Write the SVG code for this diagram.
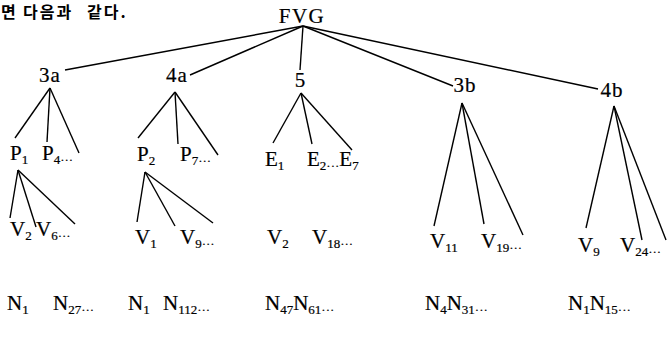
<svg xmlns="http://www.w3.org/2000/svg" width="669" height="340" viewBox="0 0 669 340">
<style>
.t{font-family:"Liberation Serif","Times New Roman",serif;font-size:21px;fill:#000;stroke:#000;stroke-width:0.2}
.s{font-size:13px}
.k{font-family:"Noto Sans CJK KR",sans-serif;font-size:16px;font-weight:700;fill:#000}
.c line{stroke:#000;stroke-width:1.4;fill:none}
</style>
<rect width="669" height="340" fill="#fff"/>
<g id="header"><text class="k" y="18"><tspan x="1">면</tspan><tspan x="23" letter-spacing="2">다음과</tspan><tspan x="87" letter-spacing="2">같다.</tspan></text></g>
<g id="connectors" class="c">
<line x1="303" y1="26" x2="65" y2="70"/>
<line x1="303" y1="26" x2="190" y2="75"/>
<line x1="303" y1="26" x2="300" y2="70"/>
<line x1="303" y1="26" x2="453" y2="86"/>
<line x1="303" y1="26" x2="598" y2="89"/>
<line x1="50" y1="88" x2="15" y2="138"/>
<line x1="50" y1="88" x2="47" y2="142"/>
<line x1="50" y1="88" x2="79" y2="153"/>
<line x1="18" y1="170" x2="10" y2="218"/>
<line x1="18" y1="170" x2="36" y2="227"/>
<line x1="18" y1="170" x2="75" y2="224"/>
<line x1="175" y1="92" x2="138" y2="138"/>
<line x1="175" y1="92" x2="178" y2="144"/>
<line x1="175" y1="92" x2="218" y2="155"/>
<line x1="145" y1="172" x2="137" y2="222"/>
<line x1="145" y1="172" x2="175" y2="226"/>
<line x1="145" y1="172" x2="213" y2="223"/>
<line x1="301" y1="93" x2="273" y2="143"/>
<line x1="301" y1="93" x2="312" y2="144"/>
<line x1="301" y1="93" x2="352" y2="150"/>
<line x1="462" y1="103" x2="434" y2="226"/>
<line x1="462" y1="103" x2="484" y2="224"/>
<line x1="462" y1="103" x2="523" y2="235"/>
<line x1="614" y1="106" x2="586" y2="228"/>
<line x1="614" y1="106" x2="642" y2="240"/>
<line x1="614" y1="106" x2="666" y2="240"/>
</g>
<g id="FVG"><text class="t" x="302" y="23" text-anchor="middle" font-size="22" letter-spacing="1.5">FVG</text></g>
<g id="n3a"><text class="t" x="50" y="82" text-anchor="middle" letter-spacing="1">3a</text></g>
<g id="n4a"><text class="t" x="177" y="82" text-anchor="middle" letter-spacing="1">4a</text></g>
<g id="n5"><text class="t" x="300" y="87" text-anchor="middle">5</text></g>
<g id="n3b"><text class="t" x="465" y="92" text-anchor="middle" letter-spacing="1">3b</text></g>
<g id="n4b"><text class="t" x="612" y="97" text-anchor="middle" letter-spacing="1">4b</text></g>
<g id="P1"><text class="t" x="10" y="160">P<tspan class="s" dy="4">1</tspan></text></g>
<g id="P4"><text class="t" x="42" y="160">P<tspan class="s" dy="4">4···</tspan></text></g>
<g id="P2"><text class="t" x="137" y="161">P<tspan class="s" dy="4">2</tspan></text></g>
<g id="P7"><text class="t" x="180" y="161">P<tspan class="s" dy="4">7···</tspan></text></g>
<g id="E1"><text class="t" x="265" y="166">E<tspan class="s" dy="4">1</tspan></text></g>
<g id="E2"><text class="t" x="307" y="166">E<tspan class="s" dy="4">2···</tspan><tspan dy="-4">E</tspan><tspan class="s" dy="4">7</tspan></text></g>
<g id="V2a"><text class="t" x="10" y="236">V<tspan class="s" dy="4">2</tspan></text></g>
<g id="V6"><text class="t" x="36" y="236">V<tspan class="s" dy="4">6···</tspan></text></g>
<g id="V1"><text class="t" x="135" y="244">V<tspan class="s" dy="4">1</tspan></text></g>
<g id="V9a"><text class="t" x="180" y="244">V<tspan class="s" dy="4">9···</tspan></text></g>
<g id="V2b"><text class="t" x="267" y="244">V<tspan class="s" dy="4">2</tspan></text></g>
<g id="V18"><text class="t" x="312" y="244">V<tspan class="s" dy="4">18···</tspan></text></g>
<g id="V11"><text class="t" x="430" y="248">V<tspan class="s" dy="4">11</tspan></text></g>
<g id="V19"><text class="t" x="481" y="248">V<tspan class="s" dy="4">19···</tspan></text></g>
<g id="V9b"><text class="t" x="578" y="252">V<tspan class="s" dy="4">9</tspan></text></g>
<g id="V24"><text class="t" x="620" y="252">V<tspan class="s" dy="4">24···</tspan></text></g>
<g id="N1a"><text class="t" x="7" y="310">N<tspan class="s" dy="4">1</tspan></text></g>
<g id="N27"><text class="t" x="53" y="310">N<tspan class="s" dy="4">27···</tspan></text></g>
<g id="N1b"><text class="t" x="128" y="310">N<tspan class="s" dy="4">1</tspan></text></g>
<g id="N112"><text class="t" x="163" y="310">N<tspan class="s" dy="4">112···</tspan></text></g>
<g id="N47"><text class="t" x="265" y="310">N<tspan class="s" dy="4">47</tspan><tspan dy="-4">N</tspan><tspan class="s" dy="4">61···</tspan></text></g>
<g id="N4"><text class="t" x="425" y="310">N<tspan class="s" dy="4">4</tspan><tspan dy="-4">N</tspan><tspan class="s" dy="4">31···</tspan></text></g>
<g id="N1c"><text class="t" x="568" y="310">N<tspan class="s" dy="4">1</tspan><tspan dy="-4">N</tspan><tspan class="s" dy="4">15···</tspan></text></g>
</svg>
